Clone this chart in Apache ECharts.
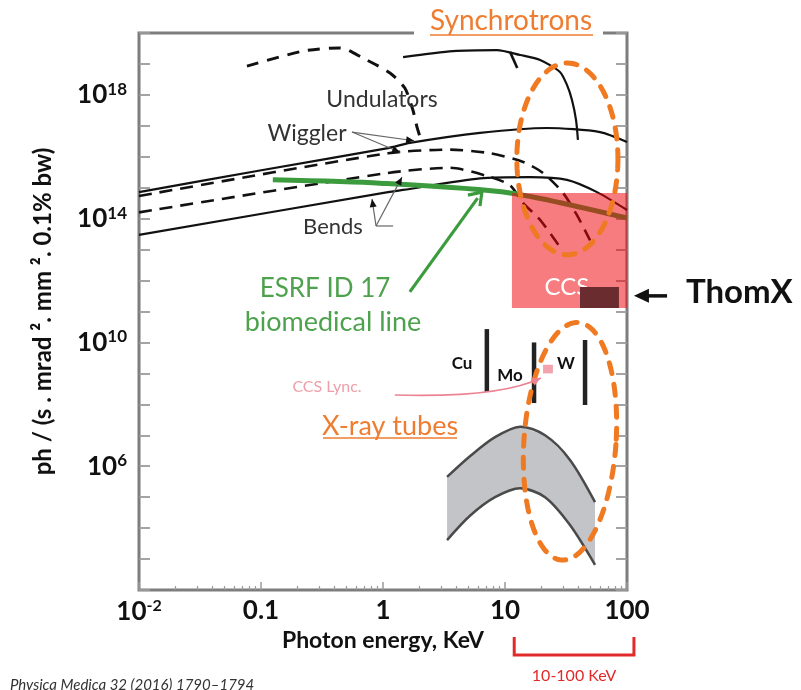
<!DOCTYPE html>
<html><head><meta charset="utf-8">
<script src="https://cdn.jsdelivr.net/npm/echarts@6/dist/echarts.min.js"></script>
<style>html,body{margin:0;padding:0;background:#fff}#c{width:801px;height:690px}</style>
</head><body><div id="c"></div>
<script>
// ---------- data: photon energy (keV) and brilliance ph/(s.mrad2.mm2.0.1%bw) ----------
const wigglerSolidE = [0.01, 0.098, 1.10, 1.66, 6.24, 22.1, 60.1, 100];
const wigglerSolidB = [7.2e14, 3.6e15, 1.9e16, 2.8e16, 5.9e16, 8.5e16, 6.3e16, 3.0e16];
const wigglerDashE = [0.01, 1.10, 3.54, 7.53, 14.1, 20.5, 29.9, 38.9, 49.8];
const wigglerDashB = [5.4e14, 1.3e16, 1.7e16, 1.3e16, 6.8e15, 3.0e15, 6.8e14, 1.3e14, 2.0e13];
const bendDashE = [0.01, 1.10, 3.54, 7.11, 11.0, 14.1, 19.4, 28.2];
const bendDashB = [1.6e14, 3.0e15, 4.4e15, 2.4e15, 1.2e15, 3.2e14, 9.1e13, 1.2e13];
const bendSolidE = [0.01, 1.10, 1.46, 6.24, 16.0, 32.2, 56.8, 100];
const bendSolidB = [3.0e13, 7.2e14, 8.5e14, 2.0e15, 2.2e15, 1.8e15, 7.2e14, 1.9e14];
const undSolidE = [1.46, 3.75, 8.59, 13.3, 19.4, 28.2, 32.2, 35.4, 38.2, 39.6];
const undSolidB = [1.66e19, 2.6e19, 2.8e19, 1.95e19, 1.35e19, 5.5e18, 2.1e18, 6.8e17, 1.55e17, 3.5e16];
const undBranchE = [11.0, 12.6];
const undBranchB = [2.45e19, 7.4e18];
const undDashE = [0.0767, 0.221, 0.445, 0.685, 1.14, 1.51, 1.76, 1.90, 2.05];
const undDashB = [8.5e18, 2.6e19, 3.3e19, 1.55e19, 5.1e18, 1.66e18, 3.2e17, 9.1e16, 3.5e16];
const esrfE = [0.125, 0.944, 11.0, 100];
const esrfB = [1.8e15, 1.4e15, 6.8e14, 1.05e14];

const xrayE = [3.35, 5.16, 8.28, 13.3, 21.3, 34.1, 54.7];
const xrayHighB = [4.5e5, 2.1e6, 8.7e6, 1.9e7, 1.0e7, 1.6e6, 6.9e4];
const xrayLowB = [4.1e3, 2.5e4, 1.0e5, 1.95e5, 1.0e5, 1.26e4, 6.5e2];

const tubeNames = ['Cu', 'Mo', 'W'];
const tubeE = [7.1, 17.3, 45.3];
const tubeLowB = [2.5e8, 1.1e8, 9.5e7];
const tubeHighB = [2.7e10, 1.0e10, 1.2e10];
const lyncE = [20.5, 24.7];
const lyncB = [1.0e9, 1.9e9];

const ccsE = [11.4, 100];
const ccsB = [1.3e11, 6.8e14];
const ccsLabelAt = [32.2, 6.2e11];
const thomxE = [41.2, 85.9];
const thomxB = [1.3e11, 6.2e11];

const ellipseTopE = [12.5, 84.3];
const ellipseTopB = [6.8e12, 1.07e19];
const ellipseLowE = [14.3, 81.3];
const ellipseLowB = [9.1e2, 4.5e10];

const wigglerPtrFrom = [0.557, 6.3e16];
const wigglerPtrTo = [[1.80, 3.3e16], [1.38, 1.4e16]];
const bendsPtrFrom = [0.877, 5.8e13];
const bendsPtrTo = [[0.813, 4.3e14], [1.43, 2.2e15]];
const bendsTail = [1.21, 5.8e13];
const esrfArrow = [[1.66, 4.3e11], [6.47, 7.2e14]];
const thomxArrow = [[213, 3.2e11], [114, 3.2e11]];
const lyncArrow = [[1.25, 2.0e8], [9.1, 1.6e8], [19.7, 7.1e8]];
const bracketE = [11.9, 114];

const xDecades = [0.01, 0.1, 1, 10, 100];
const xMinor = [];
xDecades.slice(0, 4).forEach(d => { for (let k = 2; k <= 9; k++) xMinor.push(d * k); });
const yDecades = [];
for (let e = 2; e <= 20; e++) yDecades.push(Math.pow(10, e));
const yLabelled = [1e6, 1e10, 1e14, 1e18];

// ---------- helpers ----------
const FONT = "Lato, 'Open Sans', sans-serif";
const pairs = (E, B) => E.map((e, i) => [e, B[i]]);
function head(from, to, len, half, color) {
  const dx = to[0] - from[0], dy = to[1] - from[1];
  const L = Math.hypot(dx, dy) || 1, ux = dx / L, uy = dy / L;
  const bx = to[0] - ux * len, by = to[1] - uy * len;
  return { type: 'polygon', shape: { points: [to, [bx - uy * half, by + ux * half], [bx + uy * half, by - ux * half]] }, style: { fill: color } };
}
function ellipsePts(p0, p1, phi) {
  const cx = (p0[0] + p1[0]) / 2, cy = (p0[1] + p1[1]) / 2;
  const rx = Math.abs(p1[0] - p0[0]) / 2, ry = Math.abs(p1[1] - p0[1]) / 2;
  const pts = [];
  for (let i = 0; i < 120; i++) {
    const t = i / 120 * 2 * Math.PI, x = rx * Math.cos(t), y = ry * Math.sin(t);
    pts.push([cx + x * Math.cos(phi) - y * Math.sin(phi), cy + x * Math.sin(phi) + y * Math.cos(phi)]);
  }
  return pts;
}
function lineS(E, B, color, width, dash, z) {
  return { type: 'line', data: pairs(E, B), showSymbol: false, symbol: 'none', smooth: 0.25, z: z || 2,
    lineStyle: { color: color, width: width, type: dash || 'solid', cap: 'butt' }, silent: true, animation: false };
}
function customS(z, render) {
  return { type: 'custom', data: [[1, 1e10]], z: z, clip: false, silent: true, animation: false,
    renderItem: (params, api) => ({ type: 'group', children: render(api) }) };
}
function label(x, y, text, font, fill, align) {
  return { type: 'text', x: x, y: y, z: 60, style: { text: text, font: font, fill: fill, textAlign: align || 'center', textVerticalAlign: 'middle' } };
}

const chart = echarts.init(document.getElementById('c'));
const axisTxt = { fontFamily: FONT, fontWeight: 'bold', color: '#111' };
chart.setOption({
  backgroundColor: '#fff',
  animation: false,
  grid: { left: 139, top: 33, width: 488, height: 557, show: true, borderColor: '#7d7d7d', borderWidth: 3, backgroundColor: 'transparent' },
  xAxis: [
    { type: 'log', logBase: 10, min: 0.01, max: 100, position: 'bottom',
      axisLine: { show: false }, splitLine: { show: false },
      axisTick: { inside: true, length: 8, customValues: xDecades, lineStyle: { color: '#9a9a9a', width: 1.5 } },
      axisLabel: { customValues: xDecades, margin: 8,
        formatter: v => { const e = Math.round(Math.log10(v)); return e === -2 ? '{b|10}{s|-2}' : '{b|' + ({ '-1': '0.1', '0': '1', '1': '10', '2': '100' })[e] + '}'; },
        rich: { b: Object.assign({ fontSize: 26 }, axisTxt), s: Object.assign({ fontSize: 16, padding: [0, 0, 11, 0] }, axisTxt) } },
      name: 'Photon energy, KeV', nameLocation: 'middle', nameGap: 37,
      nameTextStyle: Object.assign({ fontSize: 23 }, axisTxt) },
    { type: 'log', logBase: 10, min: 0.01, max: 100, position: 'bottom', offset: 0,
      axisLine: { show: false }, splitLine: { show: false }, axisLabel: { show: false },
      axisTick: { inside: true, length: 4, customValues: xMinor, lineStyle: { color: '#9a9a9a', width: 1.2 } } }
  ],
  yAxis: [
    { type: 'log', logBase: 10, min: 1e2, max: 1e20, position: 'left',
      axisLine: { show: false }, splitLine: { show: false },
      axisTick: { inside: true, length: 11, customValues: yDecades, lineStyle: { color: '#9a9a9a', width: 1.8 } },
      axisLabel: { customValues: yLabelled, margin: 12,
        formatter: v => '{b|10}{s|' + Math.round(Math.log10(v)) + '}',
        rich: { b: Object.assign({ fontSize: 26 }, axisTxt), s: Object.assign({ fontSize: 17, padding: [0, 0, 11, 0] }, axisTxt) } },
      name: 'ph / (s . mrad \u00b2. mm \u00b2. 0.1% bw)', nameLocation: 'middle', nameGap: 84, nameRotate: 90,
      nameTextStyle: Object.assign({ fontSize: 24 }, axisTxt) },
    { type: 'log', logBase: 10, min: 1e2, max: 1e20, position: 'right',
      axisLine: { show: false }, splitLine: { show: false }, axisLabel: { show: false },
      axisTick: { inside: true, length: 11, customValues: yDecades, lineStyle: { color: '#9a9a9a', width: 1.8 } } }
  ],
  series: [
    lineS(wigglerSolidE, wigglerSolidB, '#111', 2.2),
    lineS(wigglerDashE, wigglerDashB, '#111', 2.6, [13, 8]),
    lineS(bendDashE, bendDashB, '#111', 2.6, [13, 8]),
    lineS(bendSolidE, bendSolidB, '#111', 2.2),
    lineS(undSolidE, undSolidB, '#111', 2.2),
    lineS(undBranchE, undBranchB, '#111', 2.6),
    lineS(undDashE, undDashB, '#111', 3, [12, 9]),
    lineS(esrfE, esrfB, '#3b9b3d', 5),
    // X-ray tube band
    customS(2, api => {
      const up = xrayE.map((e, i) => api.coord([e, xrayHighB[i]]));
      const lo = xrayE.map((e, i) => api.coord([e, xrayLowB[i]]));
      return [
        { type: 'polygon', shape: { points: up.concat(lo.slice().reverse()) }, style: { fill: '#c3c4c8' } },
        { type: 'polyline', shape: { points: up, smooth: 0.3 }, style: { stroke: '#4a4a4a', lineWidth: 2.5, fill: null } },
        { type: 'polyline', shape: { points: lo, smooth: 0.3 }, style: { stroke: '#4a4a4a', lineWidth: 2.5, fill: null } }
      ];
    }),
    // anode lines and CCS Lync square
    customS(3, api => {
      const ch = tubeE.map((e, i) => {
        const a = api.coord([e, tubeLowB[i]]), b = api.coord([e, tubeHighB[i]]);
        return { type: 'line', shape: { x1: a[0], y1: a[1], x2: b[0], y2: b[1] }, style: { stroke: '#222', lineWidth: 4.5 } };
      });
      const a = api.coord([lyncE[0], lyncB[0]]), b = api.coord([lyncE[1], lyncB[1]]);
      ch.push({ type: 'rect', shape: { x: a[0], y: b[1], width: b[0] - a[0], height: a[1] - b[1] }, style: { fill: '#f2a3ad' } });
      return ch;
    }),
    // CCS box + ThomX
    customS(3, api => {
      const a = api.coord([ccsE[0], ccsB[0]]), b = api.coord([ccsE[1], ccsB[1]]);
      const c = api.coord([thomxE[0], thomxB[0]]), d = api.coord([thomxE[1], thomxB[1]]);
      const t = api.coord(ccsLabelAt);
      return [
        { type: 'rect', shape: { x: a[0], y: b[1], width: b[0] - a[0], height: a[1] - b[1] }, style: { fill: 'rgba(238,4,10,0.52)' } },
        { type: 'text', x: t[0], y: t[1], style: { text: 'CCS', font: '24px ' + FONT, fill: '#fff', textAlign: 'center', textVerticalAlign: 'middle' } },
        { type: 'rect', shape: { x: c[0], y: d[1], width: d[0] - c[0], height: c[1] - d[1] }, style: { fill: '#6a2c2f' } }
      ];
    }),
    // orange dashed ellipses
    customS(5, api => {
      const st = { fill: null, stroke: '#f07a22', lineWidth: 5, lineDash: [11, 11], lineCap: 'round' };
      return [
        { type: 'polygon', shape: { points: ellipsePts(api.coord([ellipseTopE[0], ellipseTopB[0]]), api.coord([ellipseTopE[1], ellipseTopB[1]]), 0) }, style: st },
        { type: 'polygon', shape: { points: ellipsePts(api.coord([ellipseLowE[0], ellipseLowB[0]]), api.coord([ellipseLowE[1], ellipseLowB[1]]), 0.07) }, style: st }
      ];
    }),
    // pointers and arrows
    customS(5, api => {
      const ch = [];
      const f = api.coord(wigglerPtrFrom);
      wigglerPtrTo.forEach(p => { const t = api.coord(p);
        ch.push({ type: 'line', shape: { x1: f[0], y1: f[1], x2: t[0], y2: t[1] }, style: { stroke: '#666', lineWidth: 1.2 } });
        ch.push(head(f, t, 8, 3.5, '#111')); });
      const g = api.coord(bendsPtrFrom), gt = api.coord(bendsTail);
      ch.push({ type: 'line', shape: { x1: g[0], y1: g[1], x2: gt[0], y2: gt[1] }, style: { stroke: '#666', lineWidth: 1.2 } });
      bendsPtrTo.forEach(p => { const t = api.coord(p);
        ch.push({ type: 'line', shape: { x1: g[0], y1: g[1], x2: t[0], y2: t[1] }, style: { stroke: '#666', lineWidth: 1.2 } });
        ch.push(head(g, t, 8, 3.5, '#111')); });
      const e0 = api.coord(esrfArrow[0]), e1 = api.coord(esrfArrow[1]);
      const e1b = [e1[0] - (e1[0] - e0[0]) * 0.06, e1[1] - (e1[1] - e0[1]) * 0.06];
      ch.push({ type: 'line', shape: { x1: e0[0], y1: e0[1], x2: e1b[0], y2: e1b[1] }, style: { stroke: '#3b9b3d', lineWidth: 3.2 } });
      ch.push({ type: 'polyline', shape: { points: [[e1[0] - 14, e1[1] + 3], e1, [e1[0] - 2, e1[1] + 14]] }, style: { stroke: '#3b9b3d', lineWidth: 3.2, fill: null } });
      const t0 = api.coord(thomxArrow[0]), t1 = api.coord(thomxArrow[1]);
      ch.push({ type: 'line', shape: { x1: t0[0], y1: t0[1], x2: t1[0] + 10, y2: t1[1] }, style: { stroke: '#111', lineWidth: 3.5 } });
      ch.push(head(t0, t1, 15, 7, '#111'));
      const l0 = api.coord(lyncArrow[0]), l1 = api.coord(lyncArrow[1]), l2 = api.coord(lyncArrow[2]);
      ch.push({ type: 'bezierCurve', shape: { x1: l0[0], y1: l0[1], cpx1: l1[0], cpy1: l1[1], x2: l2[0], y2: l2[1] }, style: { stroke: '#ec8394', lineWidth: 1.6, fill: null } });
      ch.push(head(l1, l2, 9, 4, '#ec8394'));
      // 10-100 keV bracket below the axis
      const bx0 = api.coord([bracketE[0], 1e2]), bx1 = api.coord([bracketE[1], 1e2]);
      const yA = bx0[1] + 47, yB = bx0[1] + 65;
      ch.push({ type: 'polyline', shape: { points: [[bx0[0], yA], [bx0[0], yB], [bx1[0], yB], [bx1[0], yA]] }, style: { stroke: '#e32a2a', lineWidth: 3, fill: null } });
      ch.push({ type: 'text', x: (bx0[0] + bx1[0]) / 2, y: yB + 21, style: { text: '10-100 KeV', font: '16px ' + FONT, fill: '#e32a2a', textAlign: 'center', textVerticalAlign: 'middle' } });
      return ch;
    })
  ],
  graphic: [
    { type: 'rect', shape: { x: 414, y: 27, width: 189, height: 12 }, style: { fill: '#fff' }, z: 50 },
    label(511, 21, 'Synchrotrons', '28px ' + FONT, '#ee7d31'),
    { type: 'line', z: 60, shape: { x1: 430, y1: 35, x2: 593, y2: 35 }, style: { stroke: '#ee7d31', lineWidth: 1.5 } },
    label(382, 100, 'Undulators', '23px ' + FONT, '#333'),
    label(307, 134, 'Wiggler', '23px ' + FONT, '#333'),
    label(333, 227, 'Bends', '22px ' + FONT, '#333'),
    label(325, 289, 'ESRF ID 17', '26px ' + FONT, '#4ea24e'),
    label(333, 322, 'biomedical line', '27px ' + FONT, '#4ea24e'),
    label(462, 364, 'Cu', 'bold 17px ' + FONT, '#111'),
    label(510, 376, 'Mo', 'bold 17px ' + FONT, '#111'),
    label(566, 364, 'W', 'bold 17px ' + FONT, '#111'),
    label(327, 387, 'CCS Lync.', '16px ' + FONT, '#eca0ab'),
    label(390, 426, 'X-ray tubes', '27px ' + FONT, '#ee7d31'),
    { type: 'line', z: 60, shape: { x1: 323, y1: 438, x2: 457, y2: 438 }, style: { stroke: '#ee7d31', lineWidth: 1.5 } },
    label(686, 292, 'ThomX', 'bold 33px ' + FONT, '#111', 'left'),
    label(10, 685, 'Physica Medica 32 (2016) 1790\u20131794', 'italic 15px ' + FONT, '#333', 'left')
  ]
});
</script></body></html>
